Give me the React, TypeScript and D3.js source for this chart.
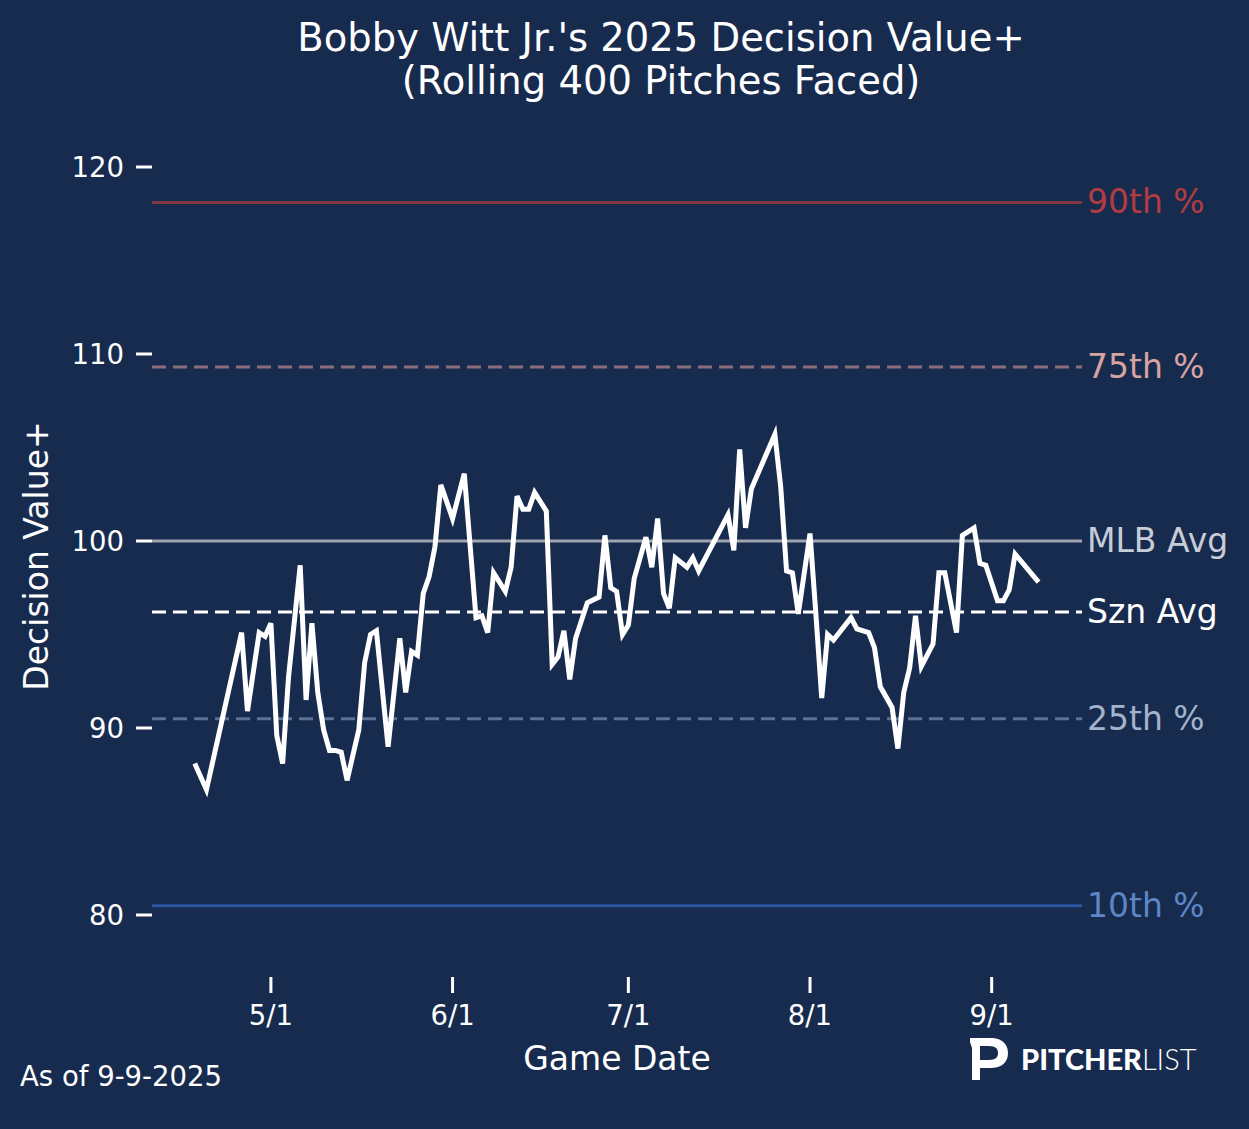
import React, { useEffect, useRef } from "react";
import * as d3 from "d3";

const dates = [
  "4/18", "4/20", "4/26", "4/27", "4/29", "4/30", "5/1", "5/2", "5/3", "5/4",
  "5/6", "5/7", "5/8", "5/9", "5/10", "5/11", "5/12", "5/13", "5/14", "5/16",
  "5/17", "5/18", "5/19", "5/21", "5/23", "5/24", "5/25", "5/26", "5/27", "5/28",
  "5/29", "5/30", "6/1", "6/3", "6/5", "6/6", "6/7", "6/8", "6/10", "6/11",
  "6/12", "6/13", "6/14", "6/15", "6/17", "6/18", "6/19", "6/20", "6/21", "6/22",
  "6/24", "6/26", "6/27", "6/28", "6/29", "6/30", "7/1", "7/2", "7/4", "7/5",
  "7/6", "7/7", "7/8", "7/9", "7/11", "7/12", "7/13", "7/18", "7/19", "7/20",
  "7/21", "7/22", "7/26", "7/27", "7/28", "7/29", "7/30", "8/1", "8/2", "8/3",
  "8/4", "8/5", "8/8", "8/9", "8/11", "8/12", "8/13", "8/15", "8/16", "8/17",
  "8/18", "8/19", "8/20", "8/22", "8/23", "8/24", "8/26", "8/27", "8/29", "8/30",
  "8/31", "9/2", "9/3", "9/4", "9/5", "9/9",
];
const values = [
  88.1, 86.7, 95.1, 90.9, 95.1, 94.9, 95.6, 89.6, 88.1, 92.7,
  98.7, 91.5, 95.6, 91.9, 89.9, 88.8, 88.8, 88.7, 87.2, 89.9,
  93.5, 95.0, 95.2, 89.0, 94.8, 91.9, 94.1, 93.9, 97.2, 98.1,
  99.7, 103.0, 101.2, 103.6, 95.9, 96.0, 95.1, 98.3, 97.3, 98.6,
  102.4, 101.7, 101.7, 102.6, 101.6, 93.4, 93.8, 95.2, 92.6, 94.8,
  96.7, 97.0, 100.3, 97.5, 97.3, 95.0, 95.5, 98.0, 100.2, 98.6,
  101.2, 97.2, 96.4, 99.1, 98.6, 99.1, 98.4, 101.4, 99.5, 104.9,
  100.7, 102.8, 105.7, 102.9, 98.4, 98.3, 96.1, 100.4, 96.1, 91.6,
  95.0, 94.7, 95.9, 95.3, 95.1, 94.3, 92.2, 91.1, 88.9, 91.9,
  93.2, 96.0, 93.3, 94.5, 98.3, 98.3, 95.1, 100.3, 100.7, 98.8,
  98.7, 96.8, 96.8, 97.4, 99.3, 97.8,
];

const refLabels = ["90th %", "75th %", "MLB Avg", "Szn Avg", "25th %", "10th %"];
const refValues = [118.1, 109.3, 100, 96.2, 90.5, 80.5];
const refLineColors = ["#7f3541", "#8a6e7c", "#9ea4b0", "#ffffff", "#5d7194", "#2b56a0"];
const refTextColors = ["#b13c42", "#d9a3a3", "#c8ccd6", "#ffffff", "#a4b3cc", "#5d86c4"];
const refDashed = [false, true, false, true, true, false];

const yTicks = [80, 90, 100, 110, 120];
const xTicks = ["5/1", "6/1", "7/1", "8/1", "9/1"];

const W = 1249;
const H = 1129;
const BG = "#172b4f";
const FONT = "DejaVu Sans, sans-serif";

const toDate = (s: string) => {
  const [m, d] = s.split("/").map(Number);
  return new Date(2025, m - 1, d);
};

export default function App() {
  const ref = useRef<SVGSVGElement | null>(null);

  useEffect(() => {
    if (!ref.current) return;
    const svg = d3.select(ref.current);
    svg.selectAll("*").remove();

    const left = 152;
    const right = 1082;

    const x = d3
      .scaleTime()
      .domain([new Date(2025, 3, 10, 17), new Date(2025, 8, 16, 10)])
      .range([left, right]);
    const y = d3.scaleLinear().domain([80, 120]).range([915, 167]);

    svg.append("rect").attr("width", W).attr("height", H).attr("fill", BG);

    // title
    const title = svg
      .append("text")
      .attr("text-anchor", "middle")
      .attr("fill", "#fff")
      .style("font-family", FONT)
      .style("font-size", "38.5px");
    title.append("tspan").attr("x", 661).attr("y", 51).text("Bobby Witt Jr.'s 2025 Decision Value+");
    title.append("tspan").attr("x", 661).attr("y", 94).text("(Rolling 400 Pitches Faced)");

    // reference lines
    refValues.forEach((v, i) => {
      svg
        .append("line")
        .attr("x1", left)
        .attr("x2", right)
        .attr("y1", y(v))
        .attr("y2", y(v))
        .attr("stroke", refLineColors[i])
        .attr("stroke-width", 3)
        .attr("stroke-dasharray", refDashed[i] ? "14,7" : null);
      svg
        .append("text")
        .attr("x", 1087)
        .attr("y", y(v))
        .attr("dy", "0.33em")
        .attr("fill", refTextColors[i])
        .style("font-family", FONT)
        .style("font-size", "33px")
        .text(refLabels[i]);
    });

    // data line
    const pts = dates.map((d, i) => ({ date: toDate(d), value: values[i] }));
    const line = d3
      .line<{ date: Date; value: number }>()
      .x((d) => x(d.date))
      .y((d) => y(d.value));
    svg
      .append("path")
      .datum(pts)
      .attr("d", line)
      .attr("fill", "none")
      .attr("stroke", "#fff")
      .attr("stroke-width", 5);

    // y axis
    yTicks.forEach((t) => {
      svg
        .append("line")
        .attr("x1", 136)
        .attr("x2", 152)
        .attr("y1", y(t))
        .attr("y2", y(t))
        .attr("stroke", "#fff")
        .attr("stroke-width", 3);
      svg
        .append("text")
        .attr("x", 124)
        .attr("y", y(t))
        .attr("dy", "0.36em")
        .attr("text-anchor", "end")
        .attr("fill", "#fff")
        .style("font-family", FONT)
        .style("font-size", "27.5px")
        .text(t);
    });

    // x axis
    xTicks.forEach((t) => {
      const px = x(toDate(t));
      svg
        .append("line")
        .attr("x1", px)
        .attr("x2", px)
        .attr("y1", 977)
        .attr("y2", 993)
        .attr("stroke", "#fff")
        .attr("stroke-width", 3);
      svg
        .append("text")
        .attr("x", px)
        .attr("y", 1025)
        .attr("text-anchor", "middle")
        .attr("fill", "#fff")
        .style("font-family", FONT)
        .style("font-size", "27.5px")
        .text(t);
    });

    svg
      .append("text")
      .attr("x", 617)
      .attr("y", 1070)
      .attr("text-anchor", "middle")
      .attr("fill", "#fff")
      .style("font-family", FONT)
      .style("font-size", "33px")
      .text("Game Date");

    svg
      .append("text")
      .attr("transform", "translate(48,556) rotate(-90)")
      .attr("text-anchor", "middle")
      .attr("fill", "#fff")
      .style("font-family", FONT)
      .style("font-size", "33px")
      .text("Decision Value+");

    svg
      .append("text")
      .attr("x", 20)
      .attr("y", 1086)
      .attr("fill", "#fff")
      .style("font-family", FONT)
      .style("font-size", "27.5px")
      .text("As of 9-9-2025");

    // logo
    const logo = svg.append("g").attr("transform", "translate(970,1038)");
    logo
      .append("path")
      .attr("d", "M0,0 L20,0 C34,0 38,8 38,15 C38,24 32,30 20,30 L10,30 L10,42 L2,42 L2,10 L0,4 Z M10,8 L10,22 L19,22 C26,22 28,19 28,15 C28,11 26,8 19,8 Z")
      .attr("fill", "#fff")
      .attr("fill-rule", "evenodd");
    const lt = logo
      .append("text")
      .attr("x", 51)
      .attr("y", 32)
      .attr("fill", "#fff")
      .style("font-family", "Lato, sans-serif")
      .style("font-size", "29px");
    lt.append("tspan").style("font-weight", "900").text("PITCHER");
    lt.append("tspan").style("font-weight", "300").text("LIST");
  }, []);

  return (
    <svg
      ref={ref}
      width={W}
      height={H}
      style={{ position: "absolute", left: 0, top: 0 }}
    ></svg>
  );
}
